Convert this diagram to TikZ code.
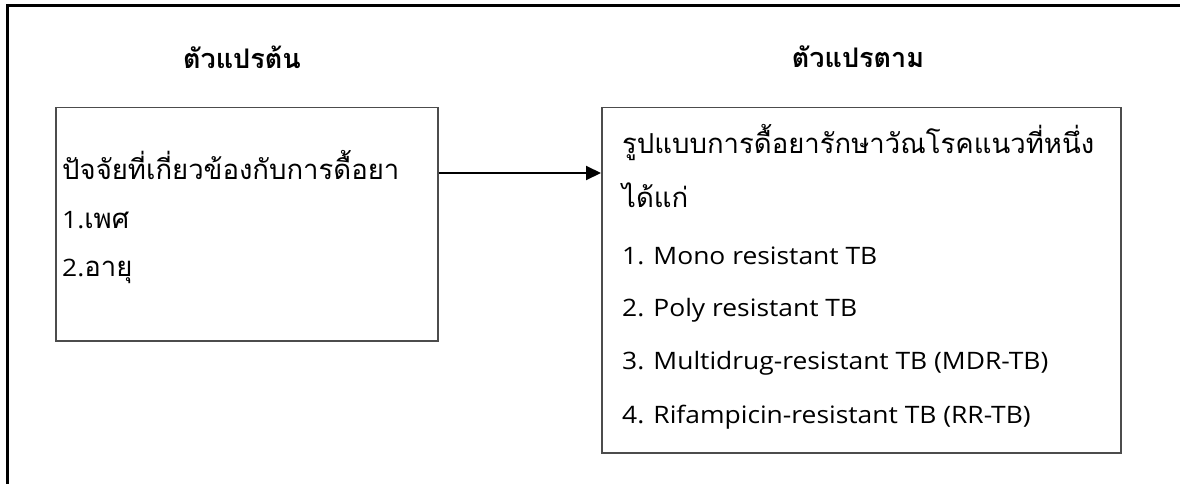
\documentclass[tikz,border=0pt]{standalone}
\usepackage{fontspec}
\setmainfont{Open Sans}[FakeStretch=1.1]
\newfontfamily\thai[Script=Thai]{Loma}
\usetikzlibrary{arrows.meta}
\begin{document}
\begin{tikzpicture}[x=1pt,y=-1pt,
  frame/.style={line width=3pt,black},
  box/.style={draw=black!70,line width=1.5pt,rectangle,anchor=north west,inner sep=0pt},
  txt/.style={anchor=west,inner sep=0pt,font=\fontsize{24}{28}\selectfont},
  th/.style={anchor=west,inner sep=0pt,font=\fontsize{27.5}{32}\selectfont\thai},
  ttl/.style={anchor=center,inner sep=0pt,font=\fontsize{27}{32}\selectfont\thai\bfseries},
  arr/.style={line width=2pt,-{Triangle[length=15pt,width=14pt]}}]
\useasboundingbox (0,0) rectangle (1180,484);
\draw[frame] (7,484) -- (7,5.5) -- (1180,5.5);
\node[ttl] (t1) at (242,57) {ตัวแปรต้น};
\node[ttl] (t2) at (858,57) {ตัวแปรตาม};
\node[box,minimum width=382pt,minimum height=233pt] (L) at (55,107) {};
\node[box,minimum width=519pt,minimum height=345pt] (R) at (601,107) {};
\node[th] (l1) at (62,165) {ปัจจัยที่เกี่ยวข้องกับการดื้อยา};
\node[txt] (l2) at (62,220) {1.{\fontsize{27.5}{32}\selectfont\thai เพศ}};
\node[txt] (l3) at (62,271) {2.{\fontsize{27.5}{32}\selectfont\thai อายุ}};
\node[th] (r1) at (622,143) {รูปแบบการดื้อยารักษาวัณโรคแนวที่หนึ่ง};
\node[th] (r2) at (622,195) {ได้แก่};
\node[txt] (r3) at (622,256) {1. Mono resistant TB};
\node[txt] (r4) at (622,310) {2. Poly resistant TB};
\node[txt] (r5) at (622,363) {3. Multidrug-resistant TB (MDR-TB)};
\node[txt] (r6) at (622,417) {4. Rifampicin-resistant TB (RR-TB)};
\coordinate (a) at (0,173);
\draw[arr] (L.north east |- a) -- (R.north west |- a);
\end{tikzpicture}
\end{document}
